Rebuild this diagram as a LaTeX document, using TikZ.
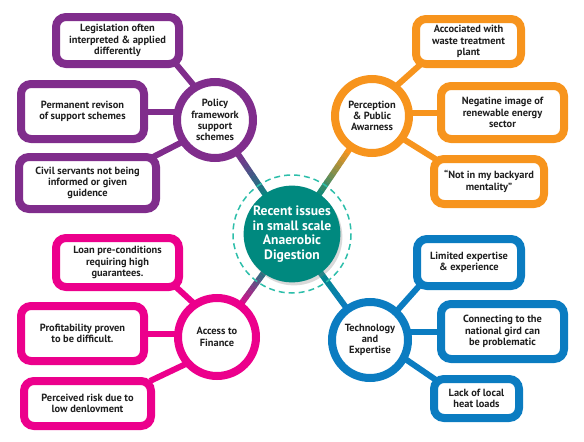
\documentclass[tikz,border=0pt]{standalone}
\usepackage{fontspec}
\setmainfont{PT Sans}
\usetikzlibrary{calc,shadows}
\definecolor{policyPurple}{RGB}{128,45,140}
\definecolor{perceptOrange}{RGB}{247,148,29}
\definecolor{financePink}{RGB}{236,0,140}
\definecolor{techBlue}{RGB}{11,124,193}
\definecolor{coreTeal}{RGB}{0,137,127}
\definecolor{dashTeal}{RGB}{45,190,170}
\pgfdeclarelayer{back}
\pgfsetlayers{back,main}
\tikzset{
  issue/.style={draw=#1, fill=white, line width=8pt, rounded corners=10pt,
    align=center, inner sep=2pt, text=black!88,
    font=\bfseries\fontsize{10.4}{11.2}\selectfont},
  hub/.style={circle, draw=#1, fill=white, line width=8pt, align=center,
    inner sep=0pt, minimum size=76pt, text=black!88,
    font=\bfseries\fontsize{10.4}{11.2}\selectfont},
  link/.style={draw=#1, line width=6pt},
}

\begin{document}
\begin{tikzpicture}[x=1pt, y=-1pt]
  \useasboundingbox (0,0) rectangle (584,442);

  % core
  \node[circle, fill=coreTeal, minimum size=94pt, inner sep=0pt, align=center,
    text=white, font=\bfseries\fontsize{13.6}{14.6}\selectfont,
    drop shadow={opacity=0.3, shadow xshift=2pt, shadow yshift=-3pt}]
    (ctr) at (292,234) {Recent issues\\in small scale\\Anaerobic\\Digestion};
  \draw[dashTeal, line width=1.5pt, dash pattern=on 6pt off 4pt] (ctr) circle (59);

  % hubs
  \node[hub=policyPurple] (pol) at (215,120) {Policy\\framework\\support\\schemes};
  \node[hub=perceptOrange, minimum size=74pt] (per) at (372,116) {Perception\\\& Public\\Awarness};
  \node[hub=financePink, minimum size=78pt] (acc) at (217,337) {Access to\\Finance};
  \node[hub=techBlue] (tec) at (370,340) {Technology\\and\\Expertise};

  % policy issues
  \node[issue=policyPurple, minimum width=123pt, minimum height=47pt] (pol1) at (117.5,40.5)
    {Legislation often\\interpreted \& applied\\differently};
  \node[issue=policyPurple, minimum width=123pt, minimum height=55pt] (pol2) at (82.5,111.5)
    {Permanent revison\\of support schemes};
  \node[issue=policyPurple, minimum width=137pt, minimum height=52pt] (pol3) at (87.5,183)
    {Civil servants not being\\informed or given\\guidence};

  % perception issues
  \node[issue=perceptOrange, minimum width=105pt, minimum height=45pt] (per1) at (468.5,41.5)
    {Accociated with\\waste treatment\\plant};
  \node[issue=perceptOrange, minimum width=123pt, minimum height=53pt] (per2) at (502.5,112.5)
    {Negatine image of\\renewable energy\\sector};
  \node[issue=perceptOrange, minimum width=110pt, minimum height=45pt] (per3) at (489,181.5)
    {“Not in my backyard\\mentality”};

  % finance issues
  \node[issue=financePink, minimum width=123pt, minimum height=49pt] (acc1) at (117.5,262.5)
    {Loan pre-conditions\\requiring high\\guarantees.};
  \node[issue=financePink, minimum width=123pt, minimum height=55pt] (acc2) at (82.5,333.5)
    {Profitability proven\\to be difficult.};
  \node[issue=financePink, minimum width=127pt, minimum height=45pt] (acc3) at (87.5,403.5)
    {Perceived risk due to\\low denlovment};

  % technology issues
  \node[issue=techBlue, minimum width=104pt, minimum height=47pt] (tec1) at (469,262.5)
    {Limited expertise\\\& experience};
  \node[issue=techBlue, minimum width=123pt, minimum height=55pt] (tec2) at (502.5,331.5)
    {Connecting to the\\national gird can\\be problematic};
  \node[issue=techBlue, minimum width=85pt, minimum height=39pt] (tec3) at (476.5,398.5)
    {Lack of local\\heat loads};

  \begin{pgfonlayer}{back}
    % hub to issue links
    \draw[link=policyPurple] ($(pol1.south east)+(-7,-4)$) -- ($(pol)+(-14,-26)$);
    \draw[link=policyPurple] (pol2) -- (pol2 -| pol);
    \draw[link=policyPurple] ($(pol3.north east)+(-7,4)$) -- ($(pol)+(-23,17)$);
    \draw[link=perceptOrange] ($(per1.south west)+(9,-4)$) -- ($(per)+(21,-27)$);
    \draw[link=perceptOrange] (per2) -- (per2 -| per);
    \draw[link=perceptOrange] ($(per3.north west)+(7,5)$) -- ($(per)+(28,21)$);
    \draw[link=financePink] ($(acc1.south east)+(-7,-4)$) -- ($(acc)+(-17,-28)$);
    \draw[link=financePink] (acc2) -- (acc2 -| acc);
    \draw[link=financePink] ($(acc3.north east)+(-5,4)$) -- ($(acc)+(-27,25)$);
    \draw[link=techBlue] ($(tec1.south west)+(7,-5)$) -- ($(tec)+(25,-27)$);
    \draw[link=techBlue] (tec2) -- (tec2 -| tec);
    \draw[link=techBlue] ($(tec3.north west)+(6,5)$) -- ($(tec)+(28,14)$);
    % core to hub links, faded into teal
    \foreach \h/\c in {pol/policyPurple, per/perceptOrange, acc/financePink, tec/techBlue} {
      \foreach \i in {0,...,11} {
        \pgfmathsetmacro\tA{0.28+\i*0.035}
        \pgfmathsetmacro\tB{\tA+0.037}
        \pgfmathtruncatemacro\mix{100*\i/11}
        \draw[link=coreTeal!\mix!\c] ($(\h)!\tA!(ctr)$) -- ($(\h)!\tB!(ctr)$);
      }
    }
  \end{pgfonlayer}
\end{tikzpicture}
\end{document}
